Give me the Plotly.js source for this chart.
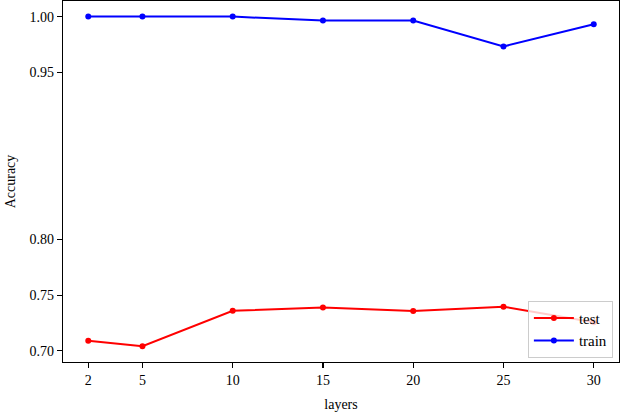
<!DOCTYPE html>
<html>
<head>
<meta charset="utf-8">
<script src="https://cdn.plot.ly/plotly-3.0.1.min.js"></script>
<style>html,body{margin:0;padding:0;background:#fff;}#chart{width:622px;height:412px;}</style>
</head>
<body>
<div id="chart"></div>
<script>
const layers = [2, 5, 10, 15, 20, 25, 30];
const testAcc = [0.709, 0.7042, 0.736, 0.739, 0.7358, 0.7396, 0.7257];
const trainAcc = [1.0, 1.0, 1.0, 0.9964, 0.9964, 0.9732, 0.9932];
const yTicks = [0.70, 0.75, 0.80, 0.95, 1.00];
const yTickText = ['0.70', '0.75', '0.80', '0.95', '1.00'];
const xTicks = [2, 5, 10, 15, 20, 25, 30];

const font = {family: 'Liberation Serif', size: 14, color: '#000'};
const legendFont = {family: 'Liberation Serif', size: 15, color: '#000'};

const traces = [
  {x: layers, y: testAcc, name: 'test', mode: 'lines+markers',
   line: {color: '#ff0000', width: 2}, marker: {color: '#ff0000', size: 6}},
  {x: layers, y: trainAcc, name: 'train', mode: 'lines+markers',
   line: {color: '#0000ff', width: 2}, marker: {color: '#0000ff', size: 6}}
];

const axisCommon = {
  showgrid: false, zeroline: false, showline: true, linecolor: '#000', linewidth: 1.2,
  mirror: true, ticks: 'outside', ticklen: 5, tickwidth: 1.2, tickcolor: '#000',
  tickfont: font
};

const layout = {
  width: 622, height: 412,
  margin: {l: 63, r: 3, t: 1, b: 50},
  paper_bgcolor: '#fff', plot_bgcolor: '#fff',
  font: font,
  xaxis: Object.assign({}, axisCommon, {
    range: [0.6, 31.4], tickmode: 'array', tickvals: xTicks,
    title: {text: 'layers', font: font, standoff: 14}
  }),
  yaxis: Object.assign({}, axisCommon, {
    range: [0.690, 1.014], tickmode: 'array', tickvals: yTicks, ticktext: yTickText,
    title: {text: 'Accuracy', font: font, standoff: 10}
  }),
  legend: {
    x: 0.989, y: 0.012, xanchor: 'right', yanchor: 'bottom',
    bgcolor: 'rgba(255,255,255,0.8)', bordercolor: '#cccccc', borderwidth: 1,
    font: legendFont, traceorder: 'normal', itemwidth: 40
  },
  showlegend: true
};

Plotly.newPlot('chart', traces, layout, {staticPlot: true, displayModeBar: false});
</script>
</body>
</html>
